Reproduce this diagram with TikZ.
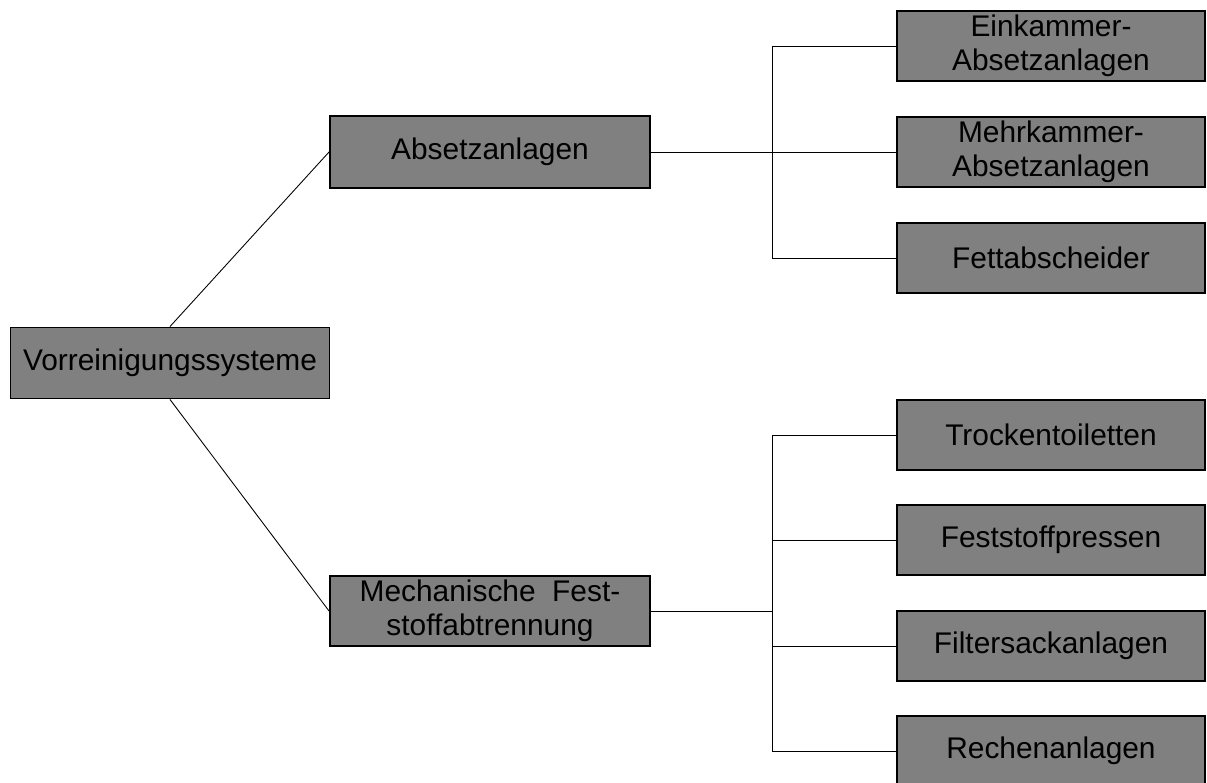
\documentclass[tikz,border=0pt]{standalone}
\usepackage{fontspec}
\setmainfont{Liberation Sans}
\usetikzlibrary{positioning,calc}
\definecolor{BoxGray}{HTML}{808080}

\begin{document}
\begin{tikzpicture}[
      box/.style={draw=black,line width=1.1pt,fill=BoxGray,align=center,
                  minimum width=6.16cm,minimum height=1.4cm,inner sep=0pt,
                  font=\fontsize{17}{19.5}\selectfont},
      wide/.style={box,minimum width=6.4cm},
      link/.style={draw=black,line width=0.5pt},
    ]
    \useasboundingbox (0,0) rectangle (24.14,-15.64);

    \node[wide,minimum width=6.38cm,minimum height=1.42cm] (root) at (3.40,-7.26) {Vorreinigungssysteme};

    \node[wide,minimum height=1.44cm] (abs)  at (9.80,-3.04)  {Absetzanlagen};
    \node[wide] (mech) at (9.80,-12.22) {Mechanische\ \ Fest-\\stoffabtrennung};

    \node[box] (ein)   at (21.02,-0.92)  {Einkammer-\\Absetzanlagen};
    \node[box] (mehr)  at (21.02,-3.04)  {Mehrkammer-\\Absetzanlagen};
    \node[box] (fett)  at (21.02,-5.16)  {Fettabscheider};

    \node[box] (trock) at (21.02,-8.70)  {Trockentoiletten};
    \node[box] (press) at (21.02,-10.80) {Feststoffpressen};
    \node[box] (filt)  at (21.02,-12.92) {Filtersackanlagen};
    \node[box] (rech)  at (21.02,-15.02) {Rechenanlagen};

    \coordinate (jabs)  at (15.44,-3.04);
    \coordinate (jmech) at (15.44,-12.22);

    \draw[link] (root.north) -- (abs.west);
    \draw[link] (root.south) -- (mech.west);

    \draw[link] (abs.east) -- (jabs);
    \foreach \n in {ein,mehr,fett}
      \draw[link] (\n.west) -| (jabs);

    \draw[link] (mech.east) -- (jmech);
    \foreach \n in {trock,press,filt,rech}
      \draw[link] (\n.west) -| (jmech);
\end{tikzpicture}
\end{document}
